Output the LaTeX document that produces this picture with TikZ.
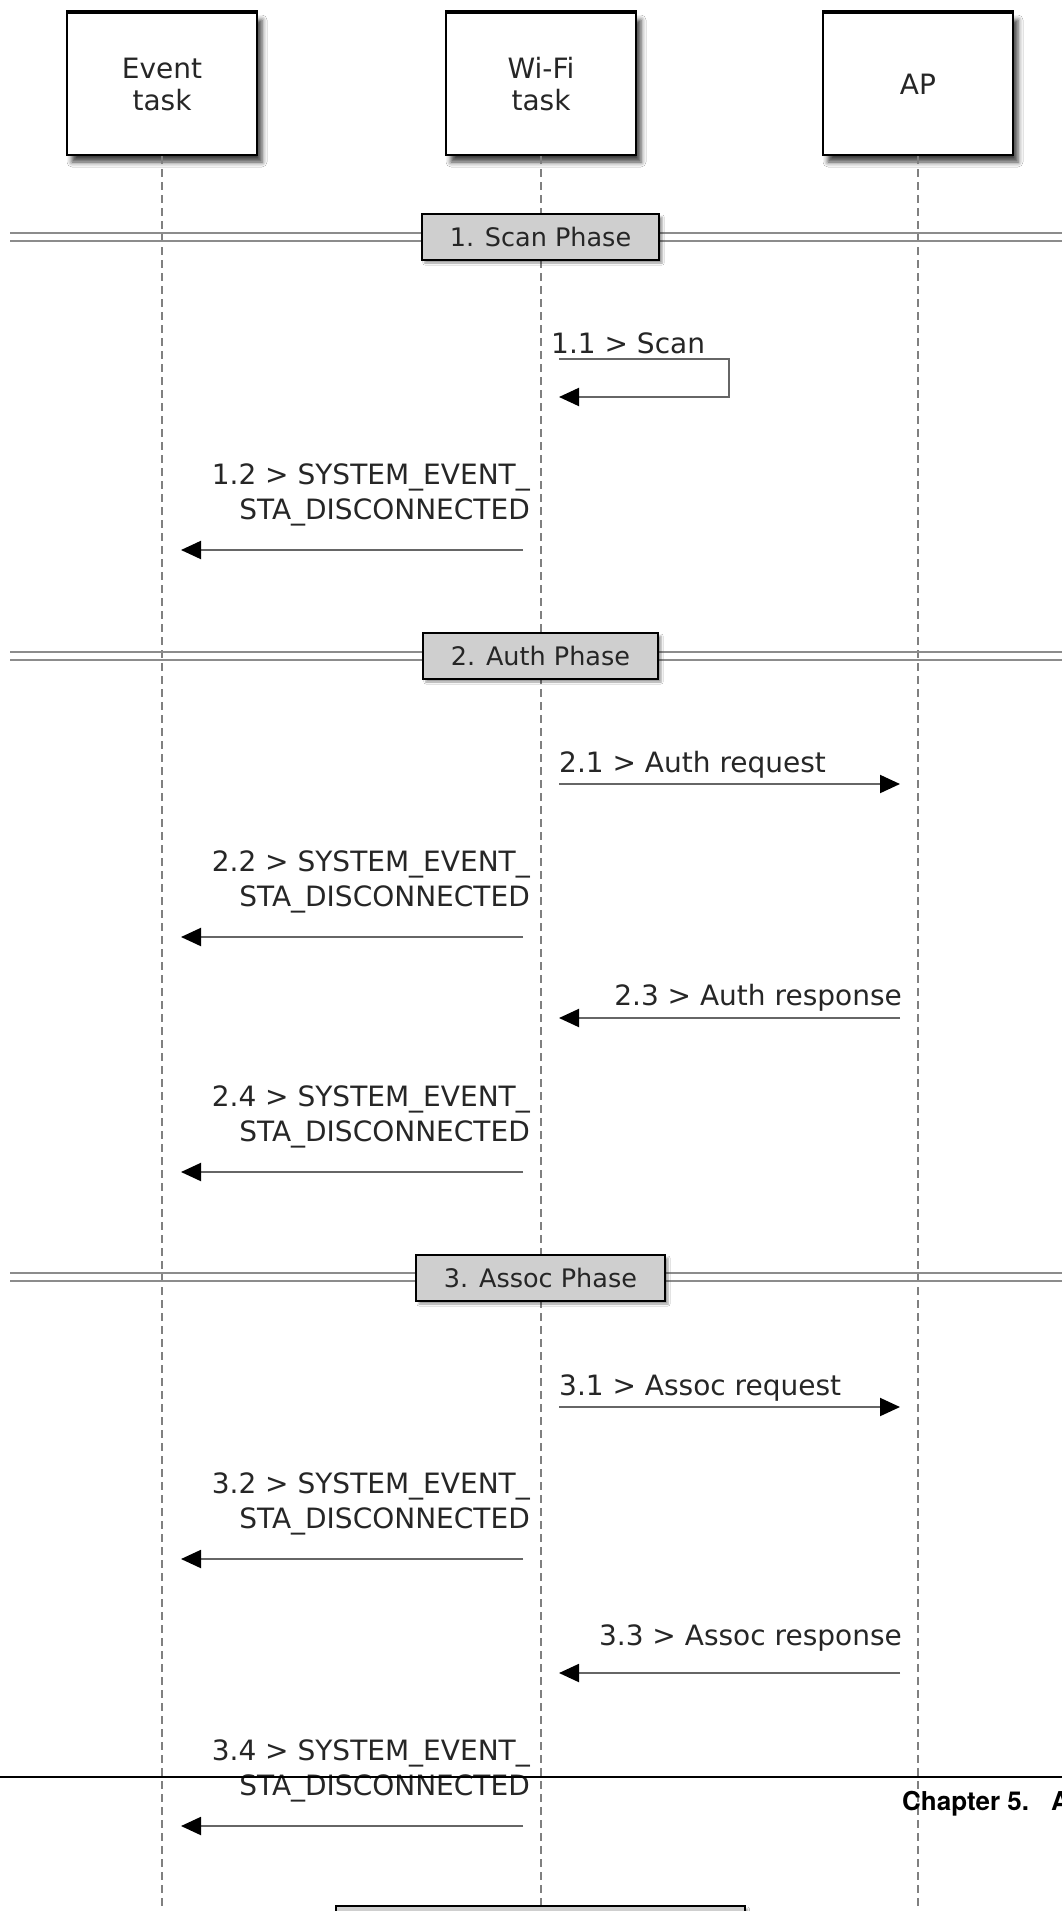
\documentclass[tikz,border=0pt]{standalone}
\usepackage{fontspec}
\setmainfont{DejaVu Sans}
\newfontfamily\hdrfont{TeX Gyre Heros}
\usetikzlibrary{arrows.meta,shadows.blur,calc}
\begin{document}
\begin{tikzpicture}[x=1pt,y=-1pt,
  actor/.style={draw=black, line width=2pt, fill=white, minimum width=190pt, minimum height=142pt,
    align=center, font=\fontsize{28}{32}\selectfont, text=black!85,
    blur shadow={shadow xshift=5pt, shadow yshift=-7pt, shadow opacity=75, shadow blur radius=5pt}},
  phasebox/.style={draw=black, line width=2pt, fill=black!19, minimum height=46pt, inner xsep=28pt,
    font=\fontsize{25.5}{30}\selectfont, text=black!85,
    blur shadow={shadow xshift=3pt, shadow yshift=-3pt, shadow opacity=40, shadow blur radius=2pt}},
  lifeline/.style={draw=black!50, line width=2pt, dash pattern=on 8pt off 5pt},
  msg/.style={draw=black!60, line width=2pt, -{Triangle[length=20pt,width=18pt,black]}},
  lbl/.style={font=\fontsize{28}{35}\selectfont, inner sep=0pt, text=black!85},
  bar/.style={draw=black!45, line width=2.5pt}
]
\useasboundingbox (0,0) rectangle (1061,1911);
\fill[white] (0,0) rectangle (1061,1911);

% reference coordinates
\coordinate (bot) at (0,1925);
\coordinate (m11a) at (0,359);
\coordinate (m11b) at (0,397);
\coordinate (m12) at (0,550);
\coordinate (m21) at (0,784);
\coordinate (m22) at (0,937);
\coordinate (m23) at (0,1018);
\coordinate (m24) at (0,1172);
\coordinate (m31) at (0,1407);
\coordinate (m32) at (0,1559);
\coordinate (m33) at (0,1673);
\coordinate (m34) at (0,1826);

% actors
\node[actor] (ev) at (162,84) {Event\\task};
\node[actor] (wf) at (541,84) {Wi-Fi\\task};
\node[actor] (ap) at (918,84) {AP};
\foreach \a in {ev,wf,ap}{\draw[line width=3.5pt] (\a.north west) -- (\a.north east);}

% lifelines
\draw[lifeline] (ev.south) -- (ev.south |- bot);
\draw[lifeline] (wf.south) -- (wf.south |- bot);
\draw[lifeline] (ap.south) -- (ap.south |- bot);

% phase separators
\draw[bar] (10,233) -- (1070,233);
\draw[bar] (10,241) -- (1070,241);
\node[phasebox] (p1) at (540.5,237) {1. Scan Phase};

\draw[bar] (10,652) -- (1070,652);
\draw[bar] (10,660) -- (1070,660);
\node[phasebox] (p2) at (540.5,656) {2. Auth Phase};

\draw[bar] (10,1273) -- (1070,1273);
\draw[bar] (10,1281) -- (1070,1281);
\node[phasebox] (p3) at (540.5,1278) {3. Assoc Phase};

\node[phasebox, minimum width=409pt] (p4) at (540,1929) {};

% 1.1 self message
\node[lbl, anchor=base west] (l11) at (551,353) {1.1 > Scan};
\draw[msg] ($(wf.south |- m11a)+(18,0)$) -- ($(wf.south |- m11a)+(188,0)$)
  -- ($(wf.south |- m11b)+(188,0)$) -- ($(wf.south |- m11b)+(18,0)$);

% 1.2
\node[lbl, anchor=base east, align=right] (l12) at (530,519) {1.2 > SYSTEM\_EVENT\_\\STA\_DISCONNECTED};
\draw[msg] ($(wf.south |- m12)+(-18,0)$) -- ($(ev.south |- m12)+(19,0)$);

% 2.1
\node[lbl, anchor=base west] (l21) at (559,772) {2.1 > Auth request};
\draw[msg] ($(wf.south |- m21)+(18,0)$) -- ($(ap.south |- m21)+(-18,0)$);

% 2.2
\node[lbl, anchor=base east, align=right] (l22) at (530,906) {2.2 > SYSTEM\_EVENT\_\\STA\_DISCONNECTED};
\draw[msg] ($(wf.south |- m22)+(-18,0)$) -- ($(ev.south |- m22)+(19,0)$);

% 2.3
\node[lbl, anchor=base east] (l23) at (902,1005) {2.3 > Auth response};
\draw[msg] ($(ap.south |- m23)+(-18,0)$) -- ($(wf.south |- m23)+(18,0)$);

% 2.4
\node[lbl, anchor=base east, align=right] (l24) at (530,1141) {2.4 > SYSTEM\_EVENT\_\\STA\_DISCONNECTED};
\draw[msg] ($(wf.south |- m24)+(-18,0)$) -- ($(ev.south |- m24)+(19,0)$);

% 3.1
\node[lbl, anchor=base west] (l31) at (559,1395) {3.1 > Assoc request};
\draw[msg] ($(wf.south |- m31)+(18,0)$) -- ($(ap.south |- m31)+(-18,0)$);

% 3.2
\node[lbl, anchor=base east, align=right] (l32) at (530,1528) {3.2 > SYSTEM\_EVENT\_\\STA\_DISCONNECTED};
\draw[msg] ($(wf.south |- m32)+(-18,0)$) -- ($(ev.south |- m32)+(19,0)$);

% 3.3
\node[lbl, anchor=base east] (l33) at (902,1645) {3.3 > Assoc response};
\draw[msg] ($(ap.south |- m33)+(-18,0)$) -- ($(wf.south |- m33)+(18,0)$);

% 3.4
\node[lbl, anchor=base east, align=right] (l34) at (530,1795) {3.4 > SYSTEM\_EVENT\_\\STA\_DISCONNECTED};
\draw[msg] ($(wf.south |- m34)+(-18,0)$) -- ($(ev.south |- m34)+(19,0)$);

% page header rule and running head
\draw[line width=1.3pt] (-5,1777) -- (1070,1777);
\node[font=\hdrfont\bfseries\fontsize{26}{30}\selectfont, anchor=base west, inner sep=0pt] (hdr) at (902,1810) {Chapter 5.\hspace{22pt}A};
\end{tikzpicture}
\end{document}
